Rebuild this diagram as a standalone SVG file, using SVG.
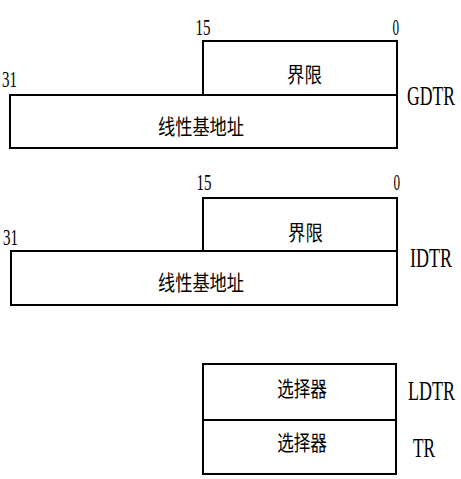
<svg xmlns="http://www.w3.org/2000/svg" width="461" height="479" viewBox="0 0 461 479">
<style>
.b{fill:#fff;stroke:#000;stroke-width:2}
.n{font-family:"Liberation Serif",serif;font-size:24px;fill:#000}
.r{font-family:"Liberation Serif",serif;font-size:27px;fill:#000}
.c{font-family:"Noto Sans CJK SC",sans-serif;font-size:21px;fill:#000;dominant-baseline:central;text-anchor:middle}
</style>
<rect width="461" height="479" fill="#fff"/>
<g id="gdtr">
<rect class="b" x="203" y="41" width="194" height="54"/>
<rect class="b" x="10" y="95" width="387" height="53"/>
<text class="n" transform="translate(195.5,35) scale(0.625,1)">15</text>
<text class="n" transform="translate(392.5,35) scale(0.55,1)">0</text>
<text class="n" transform="translate(2,87) scale(0.625,1)">31</text>
<text class="c" transform="translate(304.5,73.5) scale(0.83,1)">界限</text>
<text class="c" transform="translate(201,125) scale(0.82,1)">线性基地址</text>
<text class="r" transform="translate(407,105) scale(0.653,1)">GDTR</text>
</g>
<g id="idtr">
<rect class="b" x="203" y="198" width="194" height="53"/>
<rect class="b" x="11" y="251" width="386" height="54"/>
<text class="n" transform="translate(196.5,190) scale(0.625,1)">15</text>
<text class="n" transform="translate(393.5,190) scale(0.55,1)">0</text>
<text class="n" transform="translate(3,245) scale(0.625,1)">31</text>
<text class="c" transform="translate(305.5,231.5) scale(0.83,1)">界限</text>
<text class="c" transform="translate(201,281) scale(0.82,1)">线性基地址</text>
<text class="r" transform="translate(410,267) scale(0.667,1)">IDTR</text>
</g>
<g id="ldtr">
<rect class="b" x="203" y="364" width="193" height="56"/>
<text class="c" transform="translate(302,387) scale(0.79,1)">选择器</text>
<text class="r" transform="translate(408,400) scale(0.667,1)">LDTR</text>
</g>
<g id="tr">
<rect class="b" x="203" y="420" width="193" height="54"/>
<text class="c" transform="translate(302,441) scale(0.79,1)">选择器</text>
<text class="r" transform="translate(413,457) scale(0.64,1)">TR</text>
</g>
<g id="connectors"></g>
</svg>
